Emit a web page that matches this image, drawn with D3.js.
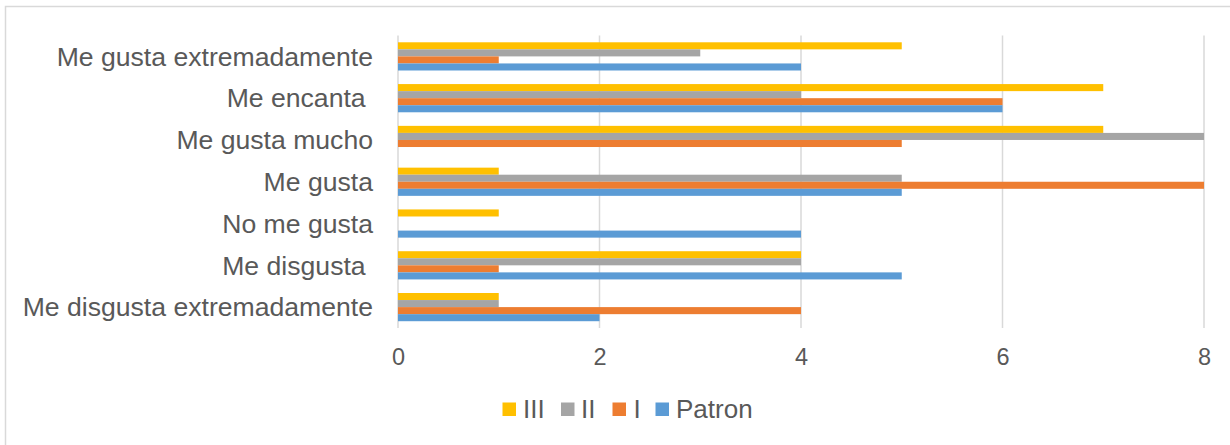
<!DOCTYPE html>
<html>
<head>
<meta charset="utf-8">
<script src="https://cdn.jsdelivr.net/npm/d3@7"></script>
<style>
  html, body { margin: 0; padding: 0; background: #fff; }
  svg { display: block; font-family: "Liberation Sans", Arial, sans-serif; }
</style>
</head>
<body>
<svg id="chart" width="1230" height="445"></svg>
<script>
// Categories, top to bottom
const categories = [
  "Me gusta extremadamente",
  "Me encanta ",
  "Me gusta mucho",
  "Me gusta",
  "No me gusta",
  "Me disgusta ",
  "Me disgusta extremadamente"
];

// Series values, in the same order as the categories
const seriesNames = ["III", "II", "I", "Patron"];
const valuesIII    = [5, 7, 7, 1, 1, 4, 1];
const valuesII     = [3, 4, 8, 5, 0, 4, 1];
const valuesI      = [1, 6, 5, 8, 0, 1, 4];
const valuesPatron = [4, 6, 0, 5, 4, 5, 2];

const xTicks = [0, 2, 4, 6, 8];
const colors = ["#FFC000", "#A5A5A5", "#ED7D31", "#5B9BD5"];

const seriesValues = [valuesIII, valuesII, valuesI, valuesPatron];
const rows = categories.map((c, i) => ({
  category: c,
  values: seriesNames.map((s, k) => ({ series: s, value: seriesValues[k][i] }))
}));

const svg = d3.select("#chart");
const textColor = "#595959";

// Outer chart border
svg.append("rect")
  .attr("x", 5.5).attr("y", 6.5)
  .attr("width", 1240).attr("height", 450)
  .attr("fill", "none")
  .attr("stroke", "#d9d9d9")
  .attr("stroke-width", 1.5);

const plot = { left: 398, right: 1204, top: 35.5, bottom: 328 };

const x = d3.scaleLinear().domain([0, 8]).range([plot.left, plot.right]);

const y = d3.scaleBand()
  .domain(categories)
  .range([plot.top, plot.bottom])
  .paddingInner(0.325)
  .paddingOuter(0.1625);

const ySub = d3.scaleBand()
  .domain(seriesNames)
  .range([0, y.bandwidth()]);

// Vertical gridlines
svg.append("g")
  .selectAll("line")
  .data(xTicks)
  .join("line")
  .attr("x1", d => x(d)).attr("x2", d => x(d))
  .attr("y1", plot.top).attr("y2", plot.bottom)
  .attr("stroke", "#d9d9d9")
  .attr("stroke-width", 1.5);

// Bars
const groups = svg.append("g")
  .selectAll("g")
  .data(rows)
  .join("g")
  .attr("transform", d => `translate(0,${y(d.category)})`);

groups.selectAll("rect")
  .data(d => d.values)
  .join("rect")
  .attr("x", x(0))
  .attr("y", d => ySub(d.series))
  .attr("width", d => x(d.value) - x(0))
  .attr("height", ySub.bandwidth())
  .attr("fill", (d, i) => colors[i]);

// Category labels
svg.append("g")
  .selectAll("text")
  .data(categories)
  .join("text")
  .attr("x", 373)
  .attr("y", d => y(d) + y.bandwidth() / 2 + 9.3)
  .attr("text-anchor", "end")
  .attr("xml:space", "preserve")
  .style("white-space", "pre")
  .attr("font-size", "26.6px")
  .attr("fill", textColor)
  .text(d => d);

// X axis tick labels
const xAxis = d3.axisBottom(x).tickValues(xTicks).tickSize(0).tickPadding(0);
const axisG = svg.append("g")
  .attr("transform", `translate(0,${plot.bottom})`)
  .call(xAxis);
axisG.select(".domain").remove();
axisG.selectAll("text")
  .attr("dy", null)
  .attr("y", 37)
  .attr("font-size", "23.5px")
  .attr("font-family", "Liberation Sans, Arial, sans-serif")
  .attr("fill", textColor);

// Legend
const legendItems = [
  { name: "III", sx: 502.5, tx: 523 },
  { name: "II", sx: 561, tx: 581 },
  { name: "I", sx: 612.5, tx: 633.5 },
  { name: "Patron", sx: 655.5, tx: 676 }
];
const legend = svg.append("g");
legendItems.forEach((item, i) => {
  legend.append("rect")
    .attr("x", item.sx).attr("y", 402.5)
    .attr("width", 13.5).attr("height", 13.5)
    .attr("fill", colors[i]);
  legend.append("text")
    .attr("x", item.tx).attr("y", 417.5)
    .attr("font-size", "26px")
    .attr("fill", textColor)
    .text(item.name);
});
</script>
</body>
</html>
